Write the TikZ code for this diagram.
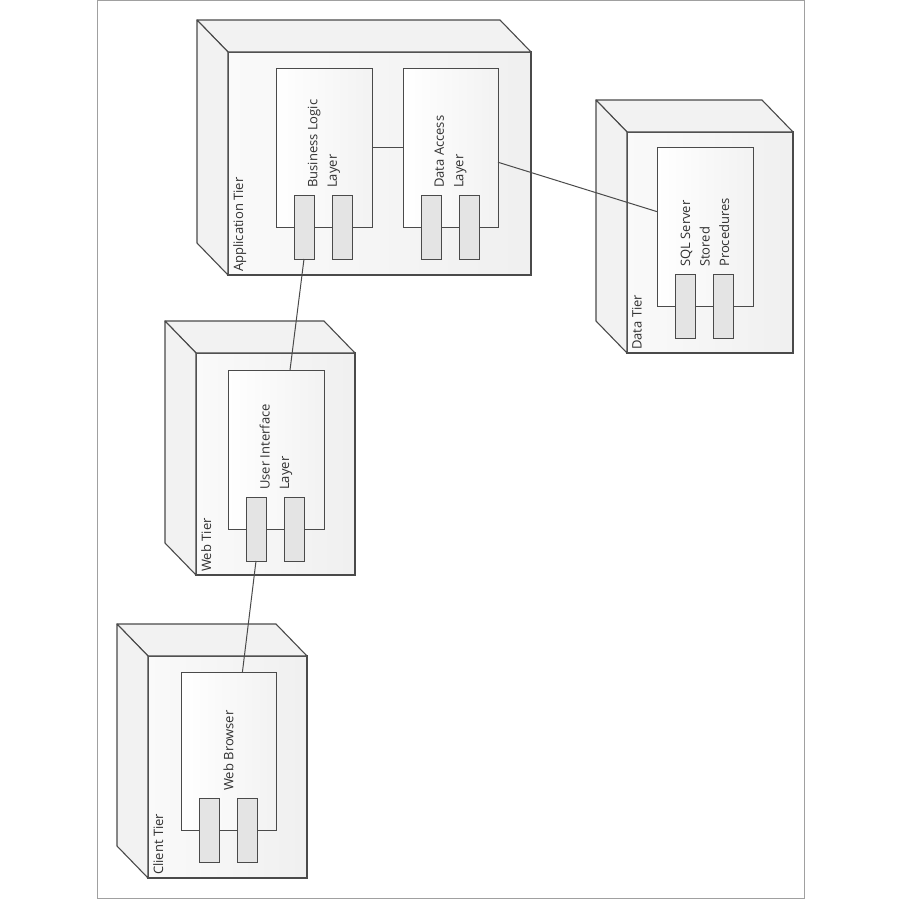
\documentclass[tikz,border=0pt]{standalone}
\usepackage{fontspec}
\setmainfont{Open Sans}
\usetikzlibrary{positioning}

\definecolor{edgegray}{HTML}{4A4A4A}
\definecolor{pagegray}{HTML}{A0A0A0}
\definecolor{portgray}{HTML}{E4E4E4}
\definecolor{textgray}{HTML}{303030}

\tikzset{
  tier/.style={draw=edgegray, line width=1.1pt, left color=black!2, right color=black!6,
    inner sep=0pt, outer sep=0pt},
  side/.style={draw=edgegray, line width=1.1pt, fill=black!5, line join=round},
  part/.style={draw=edgegray, line width=0.9pt, left color=white, right color=black!5,
    inner sep=0pt, outer sep=0pt, minimum width=96pt, minimum height=159pt},
  port/.style={draw=edgegray, line width=0.9pt, fill=portgray, inner sep=0pt,
    outer sep=0pt, minimum width=20pt, minimum height=64pt},
  tierlabel/.style={rotate=90, anchor=north west, inner sep=2pt, text=textgray,
    font=\fontsize{13}{15}\selectfont},
  partlabel/.style={rotate=90, anchor=west, align=left, inner sep=2pt, text=textgray,
    font=\fontsize{13}{19.5}\selectfont},
  wire/.style={draw=edgegray, line width=1pt}
}

\begin{document}
\begin{tikzpicture}[x=1pt, y=-1pt]
  \useasboundingbox (0,0) rectangle (900,900);

  % Page frame
  \draw[pagegray, line width=1pt] (97,0.5) rectangle (804,898);

  % Tiers (front faces)
  \node[tier, minimum width=303pt, minimum height=223pt] (app) at (379.5,163.5) {};
  \node[tier, minimum width=166pt, minimum height=221pt] (data) at (710,242.5) {};
  \node[tier, minimum width=159pt, minimum height=222pt] (web) at (275.5,464) {};
  \node[tier, minimum width=159pt, minimum height=222pt] (client) at (227.5,767) {};

  % Depth of the tiers
  \foreach \t in {app,data,web,client}{
    \filldraw[side] (\t.north west) -- ++(-31,-32)
      -- ([shift={(-31,-32)}]\t.north east) -- (\t.north east) -- cycle;
    \filldraw[side] (\t.north west) -- ++(-31,-32)
      -- ([shift={(-31,-32)}]\t.south west) -- (\t.south west) -- cycle;
  }

  \node[xshift=3pt, yshift=1pt, tierlabel] (appt) at (app.south west) {Application Tier};
  \node[xshift=3pt, yshift=1pt, tierlabel] (datat) at (data.south west) {Data Tier};
  \node[xshift=3pt, yshift=1pt, tierlabel] (webt) at (web.south west) {Web Tier};
  \node[xshift=3pt, yshift=1pt, tierlabel] (clientt) at (client.south west) {Client Tier};

  % Components
  \node[part] (bll) at (324,147.5) {};
  \node[part, minimum width=95pt] (dal) at (450.5,147.5) {};
  \node[part] (sql) at (705,226.5) {};
  \node[part] (ui) at (276,449.5) {};
  \node[part, minimum width=95pt, minimum height=158pt] (wb) at (228.5,751) {};

  % Ports
  \foreach \c in {bll,dal,sql,ui,wb}{
    \node[xshift=28pt, port] (\c p1) at (\c.south west) {};
    \node[xshift=66pt, port] (\c p2) at (\c.south west) {};
  }

  \node[yshift=5pt, partlabel] (bllt) at (bll.center |- bllp1.north) {Business Logic\\Layer};
  \node[yshift=5pt, partlabel] (dalt) at (dal.center |- dalp1.north) {Data Access\\Layer};
  \node[yshift=5pt, partlabel] (sqlt) at (sql.center |- sqlp1.north) {SQL Server\\Stored\\Procedures};
  \node[yshift=5pt, partlabel] (uit) at (ui.center |- uip1.north) {User Interface\\Layer};
  \node[yshift=5pt, partlabel] (wbt) at (wb.center |- wbp1.north) {Web Browser};

  % Connections
  \draw[wire] (bll.east) -- (dal.west);
  \draw[wire] (dal) -- (sql);
  \draw[wire] (bllp1.south) -- (ui.80);
  \draw[wire] (uip1.south) -- (wb.80);
\end{tikzpicture}
\end{document}
